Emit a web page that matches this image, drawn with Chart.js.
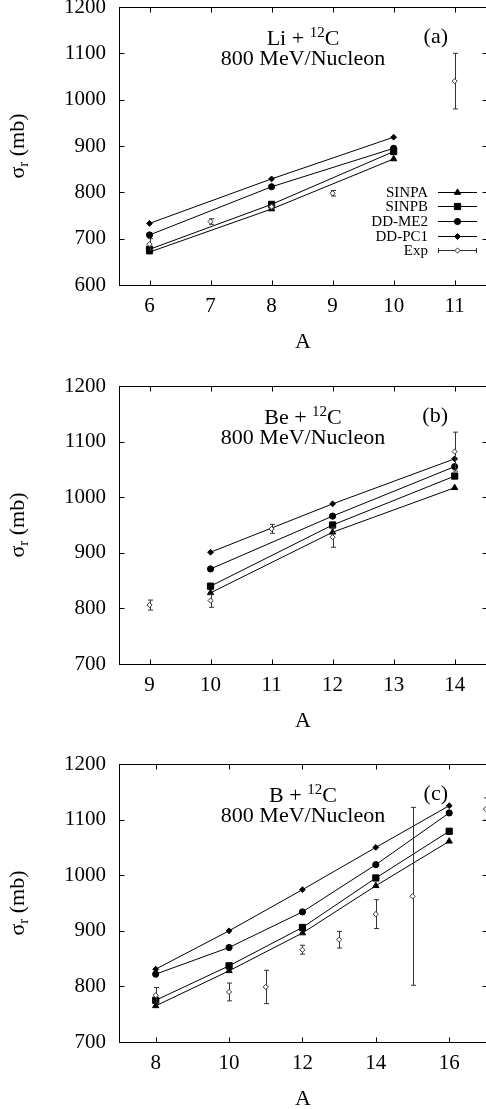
<!DOCTYPE html>
<html>
<head>
<meta charset="utf-8">
<script src="https://cdn.jsdelivr.net/npm/chart.js@4.4.1/dist/chart.umd.min.js"></script>
<style>
  html, body { margin: 0; padding: 0; background: #fff; overflow: hidden; width: 486px; height: 1109px; }
  .panel { position: absolute; left: 0; width: 488px; height: 378px; }
  .panel canvas { display: block; }
</style>
</head>
<body>
<div class="panel" style="top:-9px"><canvas id="chartLi" width="488" height="378"></canvas></div>
<div class="panel" style="top:370px"><canvas id="chartBe" width="488" height="378"></canvas></div>
<div class="panel" style="top:748px"><canvas id="chartB" width="488" height="378"></canvas></div>
<script>
// (a) Li + 12C
const liA = [6, 8, 10];
const liSINPA = [671, 764, 872];
const liSINPB = [677, 774, 888];
const liDDME2 = [708, 812, 895];
const liDDPC1 = [733, 829, 919];
const liExpA = [6, 7, 8, 9, 11];
const liExp = [688, 737, 769, 798, 1040];
const liExpErr = [12, 6, 5, 6, 60];
const liXTicks = [6, 7, 8, 9, 10, 11];
const liYTicks = [600, 700, 800, 900, 1000, 1100, 1200];

// (b) Be + 12C
const beA = [10, 12, 14];
const beSINPA = [828, 937, 1017];
const beSINPB = [840, 950, 1038];
const beDDME2 = [871, 966, 1055];
const beDDPC1 = [901, 988, 1069];
const beExpA = [9, 10, 11, 12, 14];
const beExp = [806, 814, 943, 928, 1082];
const beExpErr = [9, 12, 8, 18, 35];
const beXTicks = [9, 10, 11, 12, 13, 14];
const beYTicks = [700, 800, 900, 1000, 1100, 1200];

// (c) B + 12C
const bA = [8, 10, 12, 14, 16];
const bSINPA = [765, 828, 896, 981, 1061];
const bSINPB = [775, 837, 906, 995, 1079];
const bDDME2 = [822, 870, 934, 1019, 1112];
const bDDPC1 = [831, 900, 974, 1050, 1125];
const bExpA = [8, 10, 11, 12, 13, 14, 15, 17];
const bExp = [784, 790, 799, 866, 884, 930, 962, 1119];
const bExpErr = [14, 16, 30, 8, 15, 26, 160, 20];
const bXTicks = [8, 10, 12, 14, 16];
const bYTicks = [700, 800, 900, 1000, 1100, 1200];

const SERIF = "'Liberation Serif', 'Times New Roman', serif";
Chart.defaults.font.family = SERIF;
Chart.defaults.color = '#000';

function toXY(xs, ys) {
  return xs.map((x, i) => ({x: x, y: ys[i]}));
}

function lineSet(label, xs, ys, style, r) {
  return {
    label: label,
    data: toXY(xs, ys),
    showLine: true,
    borderColor: '#000',
    borderWidth: 1,
    pointStyle: style,
    pointRadius: r,
    pointBackgroundColor: '#000',
    pointBorderColor: '#000',
    pointBorderWidth: 1,
    tension: 0
  };
}

function drawMarker(ctx, style, r, x, y) {
  if (Chart.helpers && Chart.helpers.drawPoint) {
    Chart.helpers.drawPoint(ctx, {pointStyle: style, radius: r, rotation: 0, borderWidth: 1}, x, y);
  } else {
    ctx.beginPath();
    ctx.arc(x, y, r, 0, Math.PI * 2);
    ctx.fill();
    ctx.stroke();
  }
}

// gnuplot style frame with inward ticks on all four sides
const framePlugin = {
  id: 'frame',
  beforeDatasetsDraw(chart) {
    const {ctx, chartArea: a, scales} = chart;
    const L = Math.round(a.left) + 0.5, R = Math.round(a.right) + 0.5;
    const T = Math.round(a.top) + 0.5, B = Math.round(a.bottom) + 0.5;
    ctx.save();
    ctx.strokeStyle = '#000';
    ctx.lineWidth = 1;
    ctx.strokeRect(L, T, R - L, B - T);
    ctx.beginPath();
    scales.x.ticks.forEach(t => {
      const x = Math.round(scales.x.getPixelForValue(t.value)) + 0.5;
      ctx.moveTo(x, B); ctx.lineTo(x, B - 5);
      ctx.moveTo(x, T); ctx.lineTo(x, T + 5);
    });
    scales.y.ticks.forEach(t => {
      const y = Math.round(scales.y.getPixelForValue(t.value)) + 0.5;
      ctx.moveTo(L, y); ctx.lineTo(L + 5, y);
      ctx.moveTo(R, y); ctx.lineTo(R - 5, y);
    });
    ctx.stroke();
    ctx.restore();
  }
};

// vertical error bars for the Exp set, drawn just before its points
const errorBarPlugin = {
  id: 'errbars',
  beforeDatasetDraw(chart, args) {
    const ds = chart.data.datasets[args.index];
    if (!ds.errors) return;
    const {ctx, scales} = chart;
    ctx.save();
    ctx.strokeStyle = '#333';
    ctx.lineWidth = 1;
    ctx.beginPath();
    ds.data.forEach((p, i) => {
      const e = ds.errors[i];
      const x = Math.round(scales.x.getPixelForValue(p.x)) + 0.5;
      const y1 = scales.y.getPixelForValue(p.y - e);
      const y2 = scales.y.getPixelForValue(p.y + e);
      ctx.moveTo(x, y1); ctx.lineTo(x, y2);
      ctx.moveTo(x - 2.5, y1); ctx.lineTo(x + 2.5, y1);
      ctx.moveTo(x - 2.5, y2); ctx.lineTo(x + 2.5, y2);
    });
    ctx.stroke();
    ctx.restore();
  }
};

// titles, panel tag, y axis label with subscript, and the key
const textPlugin = {
  id: 'texts',
  afterDraw(chart, args, opts) {
    const {ctx, chartArea: a} = chart;
    ctx.save();
    ctx.fillStyle = '#000';
    ctx.textBaseline = 'alphabetic';

    // line 1: "<X> + 12C" with superscript
    const cx = 303;
    const big = '22px ' + SERIF, small = '15px ' + SERIF;
    ctx.font = big;
    const w1 = ctx.measureText(opts.proj + ' + ').width;
    const wC = ctx.measureText('C').width;
    ctx.font = small;
    const w12 = ctx.measureText('12').width;
    let x = cx - (w1 + w12 + wC) / 2;
    const y1 = a.top + 38;
    ctx.textAlign = 'left';
    ctx.font = big;
    ctx.fillText(opts.proj + ' + ', x, y1);
    ctx.font = small;
    ctx.fillText('12', x + w1, y1 - 8);
    ctx.font = big;
    ctx.fillText('C', x + w1 + w12, y1);
    ctx.textAlign = 'center';
    ctx.fillText('800 MeV/Nucleon', cx, a.top + 57.5);

    // panel tag
    ctx.textAlign = 'right';
    ctx.fillText(opts.tag, a.right - 39, a.top + 36);

    // y axis title
    ctx.save();
    ctx.translate(18, (a.top + a.bottom) / 2);
    ctx.rotate(-Math.PI / 2);
    ctx.font = big;
    const ws = ctx.measureText('\u03c3').width;
    const wm = ctx.measureText(' (mb)').width;
    ctx.font = small;
    const wr = ctx.measureText('r').width;
    let tx = -(ws + wr + wm) / 2;
    ctx.textAlign = 'left';
    ctx.textBaseline = 'middle';
    ctx.font = big;
    ctx.fillText('\u03c3', tx, 0);
    ctx.font = small;
    ctx.fillText('r', tx + ws, 6);
    ctx.font = big;
    ctx.fillText(' (mb)', tx + ws + wr, 0);
    ctx.restore();

    // key
    if (opts.key) {
      const rowY = [184.7, 199.3, 213.9, 228.5, 243.1];
      const textX = a.right - 59, x0 = a.right - 49, x1 = a.right - 10, xm = (x0 + x1) / 2;
      ctx.font = '15px ' + SERIF;
      ctx.textAlign = 'right';
      ctx.textBaseline = 'middle';
      chart.data.datasets.forEach((ds, i) => {
        const y = Math.round(a.top + rowY[i]) + 0.5;
        ctx.fillStyle = '#000';
        ctx.fillText(ds.label, textX, y + 1);
        ctx.lineWidth = 1;
        ctx.strokeStyle = ds.errors ? '#333' : '#000';
        ctx.beginPath();
        ctx.moveTo(x0, y); ctx.lineTo(x1, y);
        if (ds.errors) {
          ctx.moveTo(x0 + 0.5, y - 2.5); ctx.lineTo(x0 + 0.5, y + 2.5);
          ctx.moveTo(x1 - 0.5, y - 2.5); ctx.lineTo(x1 - 0.5, y + 2.5);
        }
        ctx.stroke();
        ctx.fillStyle = ds.pointBackgroundColor;
        ctx.strokeStyle = ds.pointBorderColor;
        drawMarker(ctx, ds.pointStyle, ds.pointRadius, xm, y);
      });
    }
    ctx.restore();
  }
};

function noPad(s) {
  s.paddingLeft = 0; s.paddingRight = 0; s.paddingTop = 0; s.paddingBottom = 0;
}

function buildChart(id, p) {
  const datasets = [
    lineSet('SINPA', p.A, p.sinpa, 'triangle', 3.6),
    lineSet('SINPB', p.A, p.sinpb, 'rect', 4.4),
    lineSet('DD-ME2', p.A, p.ddme2, 'circle', 3.1),
    lineSet('DD-PC1', p.A, p.ddpc1, 'rectRot', 2.9),
    {
      label: 'Exp',
      data: toXY(p.expA, p.exp),
      errors: p.expErr,
      showLine: false,
      pointStyle: 'rectRot',
      pointRadius: 2.6,
      pointBackgroundColor: '#fff',
      pointBorderColor: '#333',
      pointBorderWidth: 1,
      order: -1,
      clip: false
    }
  ];
  return new Chart(document.getElementById(id).getContext('2d'), {
    type: 'scatter',
    data: {datasets: datasets},
    plugins: [framePlugin, errorBarPlugin, textPlugin],
    options: {
      responsive: false,
      animation: false,
      events: [],
      layout: {autoPadding: false, padding: {top: 16, right: 1, left: 0, bottom: 0}},
      plugins: {
        legend: {display: false},
        tooltip: {enabled: false},
        texts: {proj: p.proj, tag: p.tag, key: p.key}
      },
      scales: {
        x: {
          type: 'linear',
          min: p.xMin,
          max: p.xMax,
          afterBuildTicks: s => { s.ticks = p.xTicks.map(v => ({value: v})); },
          afterFit: s => { s.height = 84; noPad(s); },
          grid: {display: false, drawTicks: false},
          border: {display: false},
          ticks: {font: {size: 21}, color: '#000', padding: 9, autoSkip: false, maxRotation: 0,
                  callback: v => String(v)},
          title: {display: true, text: 'A', font: {size: 22}, color: '#000', padding: {top: 0, bottom: 14}}
        },
        y: {
          type: 'linear',
          min: p.yTicks[0],
          max: p.yTicks[p.yTicks.length - 1],
          afterBuildTicks: s => { s.ticks = p.yTicks.map(v => ({value: v})); },
          afterFit: s => { s.width = 119; noPad(s); },
          grid: {display: false, drawTicks: false},
          border: {display: false},
          ticks: {font: {size: 21}, color: '#000', padding: 13, autoSkip: false,
                  callback: v => String(v)}
        }
      }
    }
  });
}

buildChart('chartLi', {
  A: liA, sinpa: liSINPA, sinpb: liSINPB, ddme2: liDDME2, ddpc1: liDDPC1,
  expA: liExpA, exp: liExp, expErr: liExpErr,
  xTicks: liXTicks, yTicks: liYTicks, xMin: 5.5, xMax: 11.53,
  proj: 'Li', tag: '(a)', key: true
});
buildChart('chartBe', {
  A: beA, sinpa: beSINPA, sinpb: beSINPB, ddme2: beDDME2, ddpc1: beDDPC1,
  expA: beExpA, exp: beExp, expErr: beExpErr,
  xTicks: beXTicks, yTicks: beYTicks, xMin: 8.5, xMax: 14.53,
  proj: 'Be', tag: '(b)', key: false
});
buildChart('chartB', {
  A: bA, sinpa: bSINPA, sinpb: bSINPB, ddme2: bDDME2, ddpc1: bDDPC1,
  expA: bExpA, exp: bExp, expErr: bExpErr,
  xTicks: bXTicks, yTicks: bYTicks, xMin: 7, xMax: 17.03,
  proj: 'B', tag: '(c)', key: false
});
</script>
</body>
</html>
